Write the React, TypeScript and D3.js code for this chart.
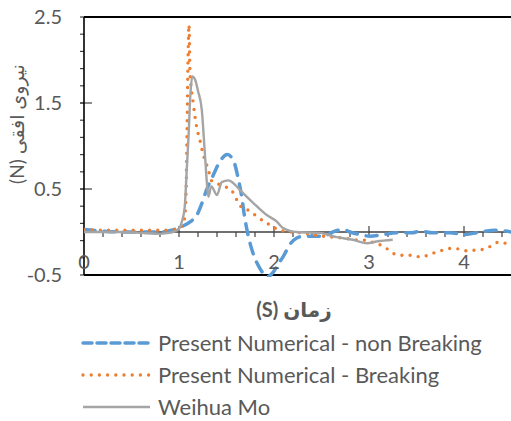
import React from "react";
import * as d3 from "d3";

const blueT = [0, 0.2, 0.4, 0.6, 0.8, 0.92, 1.01, 1.12, 1.19, 1.24, 1.29, 1.36, 1.43, 1.51, 1.58, 1.62, 1.66, 1.69, 1.73, 1.78, 1.85, 1.93, 1.99, 2.04, 2.10, 2.17, 2.24, 2.31, 2.41, 2.52, 2.62, 2.73, 2.80, 2.91, 3.01, 3.15, 3.29, 3.45, 3.54, 3.67, 3.85, 4.01, 4.17, 4.33, 4.5];
const blueV = [0.03, 0.01, 0.0, 0.0, 0.0, 0.02, 0.055, 0.12, 0.2, 0.33, 0.49, 0.66, 0.82, 0.90, 0.81, 0.64, 0.41, 0.18, -0.05, -0.25, -0.42, -0.52, -0.47, -0.38, -0.28, -0.14, -0.07, -0.05, -0.05, -0.05, 0.0, 0.03, 0.0, -0.03, -0.05, -0.03, -0.01, -0.01, 0.01, -0.01, -0.01, -0.03, 0.0, 0.02, 0.0];

const orangeT = [0, 0.2, 0.4, 0.6, 0.8, 0.95, 1.0, 1.04, 1.06, 1.075, 1.085, 1.095, 1.105, 1.116, 1.15, 1.186, 1.22, 1.25, 1.31, 1.34, 1.43, 1.50, 1.55, 1.61, 1.64, 1.75, 1.82, 1.96, 2.06, 2.18, 2.29, 2.40, 2.52, 2.62, 2.72, 2.85, 2.98, 3.06, 3.14, 3.21, 3.28, 3.36, 3.45, 3.54, 3.62, 3.69, 3.78, 3.87, 3.96, 4.04, 4.12, 4.21, 4.29, 4.36, 4.44, 4.5];
const orangeV = [0.03, 0.02, 0.02, 0.02, 0.02, 0.03, 0.04, 0.1, 0.17, 0.5, 1.2, 2.0, 2.41, 1.86, 1.5, 1.22, 1.07, 0.92, 0.72, 0.6, 0.55, 0.52, 0.49, 0.37, 0.31, 0.24, 0.18, 0.08, 0.02, 0.0, -0.01, -0.03, -0.05, -0.06, -0.07, -0.09, -0.10, -0.13, -0.16, -0.21, -0.26, -0.27, -0.27, -0.29, -0.27, -0.24, -0.21, -0.19, -0.20, -0.22, -0.21, -0.20, -0.16, -0.12, -0.13, -0.12];

const grayT = [0, 0.2, 0.4, 0.6, 0.75, 0.9, 1.0, 1.03, 1.06, 1.08, 1.10, 1.12, 1.14, 1.17, 1.20, 1.24, 1.27, 1.30, 1.31, 1.34, 1.40, 1.45, 1.52, 1.57, 1.64, 1.78, 1.92, 2.03, 2.09, 2.24, 2.48, 2.66, 2.83, 2.98, 3.08, 3.25];
const grayV = [0.0, 0.0, 0.0, -0.01, -0.02, -0.01, 0.04, 0.12, 0.29, 0.69, 1.1, 1.6, 1.81, 1.77, 1.64, 1.42, 0.95, 0.49, 0.41, 0.53, 0.43, 0.58, 0.60, 0.57, 0.49, 0.34, 0.20, 0.12, 0.05, 0.0, -0.01, -0.06, -0.09, -0.13, -0.11, -0.09];

const yMajor = [-0.5, 0.5, 1.5, 2.5];
const yTickLabels = ["-0.5", "0.5", "1.5", "2.5"];
const xMajor = [0, 1, 2, 3, 4];
const xTickLabels = ["0", "1", "2", "3", "4"];
const seriesNames = ["Present Numerical - non Breaking", "Present Numerical - Breaking", "Weihua Mo"];
const xTitle = "زمان (S)";
const yTitle = "نیروی افقی (N)";

const FONT = "Lato, 'DejaVu Sans', sans-serif";
const TXT = "#595959";

export default function App() {
  const L = 84, R = 511.5, T = 17, B = 275;
  const x = d3.scaleLinear().domain([0, 4.5]).range([L, R]);
  const y = d3.scaleLinear().domain([-0.5, 2.5]).range([B, T]);
  const line = d3.line<[number, number]>().x(d => x(d[0])).y(d => y(d[1])).curve(d3.curveMonotoneX);
  const mk = (ts: number[], vs: number[]) => line(ts.map((t, i) => [t, vs[i]] as [number, number])) || "";

  const yMinor = d3.range(-0.3, 2.45, 0.2).map(v => Math.round(v * 10) / 10);
  const xMinor = d3.range(0.2, 4.5, 0.2).map(v => Math.round(v * 10) / 10).filter(v => Math.abs(v - Math.round(v)) > 0.01);

  const styles = [
    { stroke: "#5B9BD5", width: 3.5, dash: "11 9", cap: "round" as const },
    { stroke: "#ED7D31", width: 3.4, dash: "0 8.2", cap: "round" as const },
    { stroke: "#A5A5A5", width: 2.4, dash: undefined, cap: "butt" as const },
  ];
  const data = [mk(blueT, blueV), mk(orangeT, orangeV), mk(grayT, grayV)];
  const axisC = "#404040";

  return (
    <svg width={511} height={421} style={{ position: "absolute", left: 0, top: 0, background: "#fff" }}>
      <defs>
        <clipPath id="plot">
          <rect x={L} y={T - 2} width={R - L + 2} height={B - T + 4} />
        </clipPath>
      </defs>
      <rect x={0} y={0} width={511} height={421} fill="#fff" />
      {yMinor.map(v => (
        <line key={"ym" + v} x1={L - 4} x2={L} y1={y(v)} y2={y(v)} stroke={axisC} strokeWidth={1.2} />
      ))}
      {yMajor.map(v => (
        <line key={"yM" + v} x1={L - 4} x2={L + 8} y1={y(v)} y2={y(v)} stroke={axisC} strokeWidth={1.2} />
      ))}
      <line x1={L} x2={R} y1={y(0)} y2={y(0)} stroke={axisC} strokeWidth={1.3} />
      {xMinor.map(v => (
        <line key={"xm" + v} x1={x(v)} x2={x(v)} y1={y(0)} y2={y(0) + 5} stroke={axisC} strokeWidth={1.2} />
      ))}
      {xMajor.slice(1).map(v => (
        <line key={"xM" + v} x1={x(v)} x2={x(v)} y1={y(0) - 6} y2={y(0) + 5} stroke={axisC} strokeWidth={1.2} />
      ))}
      <line x1={L} x2={R} y1={T} y2={T} stroke="#000" strokeWidth={1.8} />
      <line x1={L} x2={R} y1={B} y2={B} stroke="#000" strokeWidth={2} />
      <line x1={L} x2={L} y1={T} y2={B} stroke="#000" strokeWidth={1.6} />
      <g clipPath="url(#plot)">
        {data.map((d, i) => (
          <path key={i} d={d} fill="none" stroke={styles[i].stroke} strokeWidth={styles[i].width}
            strokeDasharray={styles[i].dash} strokeLinecap={styles[i].cap} strokeLinejoin="round" />
        ))}
      </g>
      {yMajor.map((v, i) => (
        <text key={"yl" + v} x={62} y={y(v)} dy="0.36em" textAnchor="end" fontFamily={FONT} fontSize={20} fill={TXT}>{yTickLabels[i]}</text>
      ))}
      {xMajor.map((v, i) => (
        <text key={"xl" + v} x={x(v)} y={269} textAnchor="middle" fontFamily={FONT} fontSize={20} fill={TXT}>{xTickLabels[i]}</text>
      ))}
      <text x={294} y={317} textAnchor="middle" direction="rtl" fontFamily={FONT} fontSize={20} fontWeight="bold" fill={TXT}>{xTitle}</text>
      <text transform="translate(24,124) rotate(-90)" textAnchor="middle" direction="rtl" fontFamily={FONT} fontSize={19} fill={TXT}>{yTitle}</text>
      {seriesNames.map((n, i) => {
        const cy = 343 + i * 32;
        return (
          <g key={n}>
            <line x1={83} x2={150} y1={cy} y2={cy} stroke={styles[i].stroke} strokeWidth={styles[i].width}
              strokeDasharray={i === 0 ? "9 5" : styles[i].dash} strokeLinecap={styles[i].cap} />
            <text x={158} y={cy + 7.5} fontFamily={FONT} fontSize={22} fill={TXT}>{n}</text>
          </g>
        );
      })}
    </svg>
  );
}
